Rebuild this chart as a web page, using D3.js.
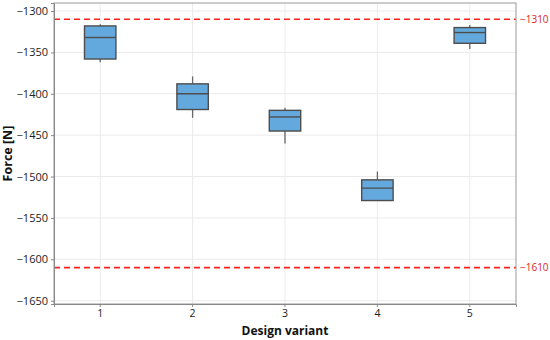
<!DOCTYPE html>
<html><head><meta charset="utf-8">
<script src="https://cdn.jsdelivr.net/npm/d3@7"></script>
<style>body{margin:0;background:#fff}svg{display:block}</style>
</head><body><div id="chart"></div>
<script>
const categories = ["1","2","3","4","5"];
const whiskerHigh = [-1316, -1379, -1417, -1494, -1317];
const q3 = [-1318, -1388, -1420, -1504, -1320];
const median = [-1332, -1400, -1428, -1514, -1326];
const q1 = [-1358, -1419, -1445, -1529, -1339];
const whiskerLow = [-1362, -1429, -1460, -1529, -1346];
const yTicks = [-1300, -1350, -1400, -1450, -1500, -1550, -1600, -1650];
const refLines = [-1310, -1610];

const W = 550, H = 340;
const m = {left: 54, right: 34, top: 3, bottom: 36};
const svg = d3.select("#chart").append("svg").attr("width", W).attr("height", H);
const x = d3.scaleBand().domain(categories).range([m.left, W - m.right]).paddingInner(0).paddingOuter(0);
const y = d3.scaleLinear().domain([-1654, -1290.3]).range([H - m.bottom, m.top]);
const font = "'Open Sans', 'Noto Sans', sans-serif";

// grid
svg.append("g").selectAll("line").data(yTicks).join("line")
  .attr("x1", m.left).attr("x2", W - m.right)
  .attr("y1", d => y(d)).attr("y2", d => y(d))
  .attr("stroke", "#ebebeb").attr("stroke-width", 1);
svg.append("g").selectAll("line").data(categories).join("line")
  .attr("x1", d => x(d) + x.bandwidth()/2).attr("x2", d => x(d) + x.bandwidth()/2)
  .attr("y1", m.top).attr("y2", H - m.bottom)
  .attr("stroke", "#ebebeb").attr("stroke-width", 1);

// ref lines
svg.append("g").selectAll("line").data(refLines).join("line")
  .attr("x1", m.left).attr("x2", W - m.right)
  .attr("y1", d => y(d)).attr("y2", d => y(d))
  .attr("stroke", "#ff2020").attr("stroke-width", 1.6).attr("stroke-dasharray", "6,4");
svg.append("g").selectAll("text").data(refLines).join("text")
  .attr("x", W - m.right + 4).attr("y", d => y(d)).attr("dy", "0.35em")
  .attr("font-family", font).attr("font-size", 10).attr("fill", "#e02424")
  .text(d => d3.format("")(d).replace("-", "\u2212"));

// boxes
const bw = x.bandwidth() * 0.34;
const g = svg.append("g");
categories.forEach((c, i) => {
  const cx = x(c) + x.bandwidth()/2;
  g.append("line").attr("x1", cx).attr("x2", cx).attr("y1", y(whiskerHigh[i])).attr("y2", y(q3[i]))
    .attr("stroke", "#666").attr("stroke-width", 1.3);
  g.append("line").attr("x1", cx).attr("x2", cx).attr("y1", y(q1[i])).attr("y2", y(whiskerLow[i]))
    .attr("stroke", "#666").attr("stroke-width", 1.3);
  g.append("rect").attr("x", cx - bw/2).attr("width", bw)
    .attr("y", y(q3[i])).attr("height", y(q1[i]) - y(q3[i]))
    .attr("fill", "#64a9de").attr("stroke", "#4d4d4d").attr("stroke-width", 1.4);
  g.append("line").attr("x1", cx - bw/2).attr("x2", cx + bw/2).attr("y1", y(median[i])).attr("y2", y(median[i]))
    .attr("stroke", "#4d4d4d").attr("stroke-width", 1.4);
});

// border
svg.append("rect").attr("x", m.left).attr("y", m.top).attr("width", W - m.left - m.right).attr("height", H - m.top - m.bottom)
  .attr("fill", "none").attr("stroke", "#999").attr("stroke-width", 1);

// axes
const yAxis = svg.append("g").attr("transform", `translate(${m.left},0)`)
  .call(d3.axisLeft(y).tickValues(yTicks).tickSize(3).tickPadding(3).tickFormat(d => String(d).replace("-", "\u2212")));
const xAxis = svg.append("g").attr("transform", `translate(0,${H - m.bottom})`)
  .call(d3.axisBottom(x).tickSize(3).tickPadding(3));
[yAxis, xAxis].forEach(a => {
  a.select(".domain").attr("stroke", "#888");
  a.selectAll(".tick line").attr("stroke", "#888");
  a.selectAll("text").attr("font-family", font).attr("font-size", 11).attr("fill", "#222");
});
xAxis.selectAll("text").attr("font-size", 10.5);

svg.append("text").attr("x", (m.left + W - m.right)/2).attr("y", 335)
  .attr("text-anchor", "middle").attr("font-family", font).attr("font-weight", "bold").attr("font-size", 12)
  .attr("fill", "#111").text("Design variant");
svg.append("text").attr("transform", `translate(12,${(m.top + H - m.bottom)/2}) rotate(-90)`)
  .attr("text-anchor", "middle").attr("font-family", font).attr("font-weight", "bold").attr("font-size", 12.5)
  .attr("fill", "#111").text("Force [N]");
</script></body></html>
